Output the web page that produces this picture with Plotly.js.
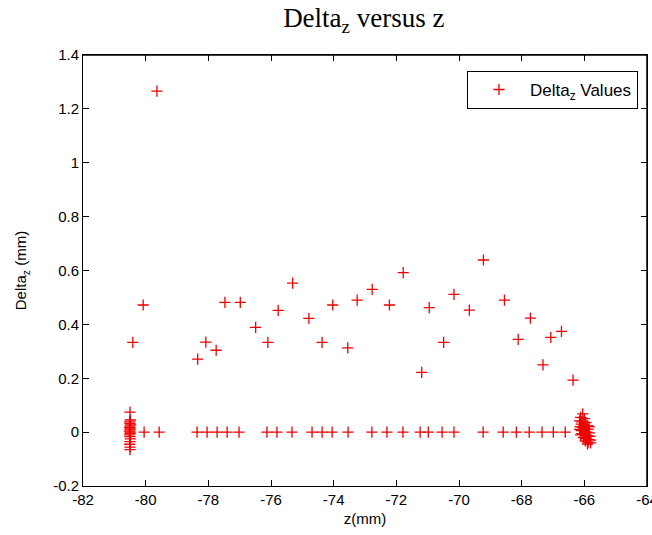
<!DOCTYPE html>
<html>
<head>
<meta charset="utf-8">
<script src="https://cdn.plot.ly/plotly-3.0.1.min.js"></script>
<style>html,body{margin:0;padding:0;background:#fff;}#chart{width:652px;height:535px;}</style>
</head>
<body>
<div id="chart"></div>
<script>
// Upper (non-zero) points
const zUpper = [-79.64, -80.41, -80.08, -78.34, -78.08, -77.75, -77.47, -76.98, -76.49, -76.10,
  -75.77, -75.31, -74.79, -74.37, -74.03, -73.55, -73.25, -72.77, -72.22, -71.78,
  -71.19, -70.95, -70.49, -70.16, -69.67, -69.22, -68.55, -68.11, -67.72, -67.32,
  -67.07, -66.73, -66.36];
const dUpper = [1.266, 0.333, 0.472, 0.271, 0.334, 0.304, 0.482, 0.482, 0.389, 0.333,
  0.452, 0.553, 0.422, 0.333, 0.472, 0.313, 0.490, 0.530, 0.472, 0.592,
  0.222, 0.462, 0.333, 0.511, 0.453, 0.639, 0.490, 0.344, 0.423, 0.250,
  0.352, 0.374, 0.193];
// Points on zero row
const zZero = [-80.05, -79.57, -78.36, -78.04, -77.72, -77.40, -77.02, -76.13, -75.81, -75.33,
  -74.69, -74.37, -74.05, -73.54, -72.78, -72.30, -71.79, -71.24, -70.98, -70.54,
  -70.16, -69.23, -68.59, -68.17, -67.76, -67.35, -66.99, -66.61];
const dZero = [0, 0, 0, 0, 0, 0, 0, 0, 0, 0,
  0, 0, 0, 0, 0, 0, 0, 0, 0, 0,
  0, 0, 0, 0, 0, 0, 0, 0];
// Left cluster near z = -80.5
const zLeft = [-80.50, -80.49, -80.51, -80.50, -80.48, -80.50, -80.51, -80.49, -80.50, -80.52,
  -80.49, -80.50, -80.51, -80.50, -80.49, -80.50, -80.51, -80.50, -80.50];
const dLeft = [0.074, 0.045, 0.038, 0.032, 0.027, 0.022, 0.017, 0.012, 0.008, 0.004,
  0.000, -0.005, -0.010, -0.017, -0.025, -0.035, -0.045, -0.056, -0.065];
// Right cluster near z = -66
const zRight = [-66.05, -66.12, -66.00, -66.15, -66.08, -65.95, -66.10, -66.02, -65.90, -66.13,
  -66.05, -65.97, -65.88, -66.10, -66.00, -65.92, -65.84, -66.08, -65.98, -65.90,
  -65.82, -66.03, -65.94, -65.86, -65.80, -65.97, -65.88, -65.80, -65.90, -66.12,
  -66.15, -65.85];
const dRight = [0.068, 0.055, 0.050, 0.042, 0.038, 0.035, 0.030, 0.027, 0.024, 0.020,
  0.016, 0.012, 0.010, 0.006, 0.003, 0.000, -0.003, -0.006, -0.010, -0.013,
  -0.016, -0.020, -0.024, -0.027, -0.030, -0.033, -0.037, -0.040, -0.044, -0.010,
  0.010, 0.020];

const xTickVals = [-82, -80, -78, -76, -74, -72, -70, -68, -66, -64];
const xTickText = ['-82', '-80', '-78', '-76', '-74', '-72', '-70', '-68', '-66', '-64'];
const yTickVals = [-0.2, 0, 0.2, 0.4, 0.6, 0.8, 1, 1.2, 1.4];
const yTickText = ['-0.2', '0', '0.2', '0.4', '0.6', '0.8', '1', '1.2', '1.4'];

const zAll = zUpper.concat(zZero, zLeft, zRight);
const dAll = dUpper.concat(dZero, dLeft, dRight);

const trace = {
  x: zAll, y: dAll, type: 'scatter', mode: 'markers',
  name: 'Delta<sub>z</sub> Values',
  marker: {symbol: 'cross-thin', size: 8, color: '#ff0000', line: {color: '#ee0000', width: 1.3}}
};

const axisFont = {family: 'Liberation Sans, Arial, sans-serif', size: 15, color: '#000'};
const layout = {
  width: 652, height: 535,
  margin: {l: 83, r: 5, t: 55, b: 49},
  paper_bgcolor: '#fff', plot_bgcolor: '#fff',
  showlegend: true,
  title: {text: 'Delta<sub>z</sub> versus z', font: {family: 'Liberation Serif, Times New Roman, serif', size: 27, color: '#000'},
    x: 0.558, xanchor: 'center', y: 0.985, yanchor: 'top'},
  xaxis: {range: [-82, -64], tickvals: xTickVals, ticktext: xTickText, ticks: 'inside', ticklen: 6,
    tickcolor: '#000', showline: true, linecolor: '#000', linewidth: 1, mirror: 'allticks',
    ticklabeloverflow: 'allow',
    showgrid: false, zeroline: false, tickfont: axisFont,
    title: {text: 'z(mm)', font: axisFont, standoff: 6}},
  yaxis: {range: [-0.2, 1.4], tickvals: yTickVals, ticktext: yTickText, ticks: 'inside', ticklen: 6,
    tickcolor: '#000', showline: true, linecolor: '#000', linewidth: 1, mirror: 'allticks',
    ticklabeloverflow: 'allow',
    showgrid: false, zeroline: false, tickfont: axisFont,
    title: {text: 'Delta<sub>z</sub> (mm)', font: axisFont, standoff: 22}},
  shapes: [
    {type: 'line', xref: 'paper', yref: 'paper', x0: 0, x1: 1, y0: 1, y1: 1, line: {color: '#000', width: 1.5}},
    {type: 'line', xref: 'paper', yref: 'paper', x0: 1, x1: 1, y0: 0, y1: 1, line: {color: '#000', width: 1.5}}
  ],
  legend: {x: 0.984, xanchor: 'right', y: 0.963, yanchor: 'top', bgcolor: '#fff', itemwidth: 52,
    bordercolor: '#000', borderwidth: 1, font: {family: 'Liberation Sans, Arial, sans-serif', size: 17, color: '#000'}}
};

Plotly.newPlot('chart', [trace], layout, {displayModeBar: false, staticPlot: true});
</script>
</body>
</html>
